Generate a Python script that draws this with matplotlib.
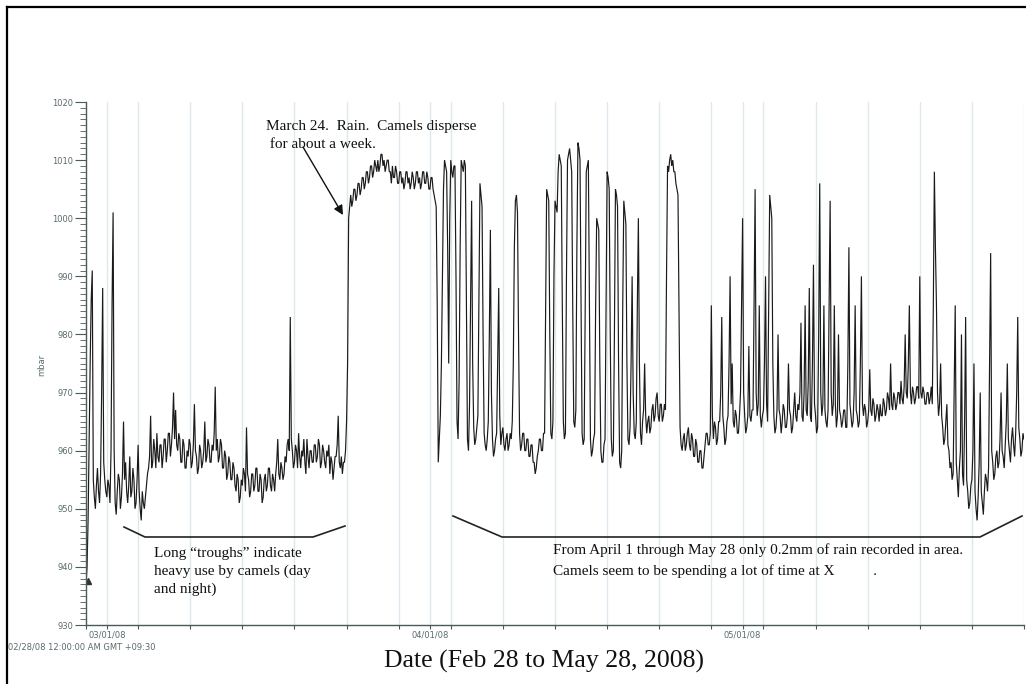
import numpy as np
import matplotlib
matplotlib.use("Agg")
import matplotlib.pyplot as plt
from matplotlib.lines import Line2D
from matplotlib.patches import FancyArrowPatch

# ---------------- data ----------------
# pressure (mbar), sampled every 0.1 day starting 02/28/08 00:00
step_days = 0.1
mbar = [
 937, 940, 948, 962, 975, 986, 991, 955, 952, 950, 954, 957, 953, 951, 956, 970, 988, 958, 955, 953,
 952, 955, 954, 951, 960, 985, 1001, 960, 951, 949, 953, 956, 955, 950, 952, 956, 965, 955, 958, 953,
 951, 954, 959, 952, 953, 957, 955, 950, 951, 955, 961, 953, 950, 948, 953, 951, 950, 952, 954, 956,
 957, 959, 966, 957, 958, 962, 960, 957, 963, 959, 958, 961, 961, 957, 959, 962, 962, 958, 960, 963,
 963, 959, 961, 964, 970, 962, 967, 961, 960, 963, 962, 958, 958, 962, 961, 957, 957, 960, 959, 962,
 961, 957, 958, 961, 968, 960, 959, 956, 957, 961, 960, 957, 958, 960, 965, 958, 959, 962, 961, 958,
 958, 961, 960, 963, 971, 960, 962, 958, 959, 962, 961, 957, 957, 960, 959, 955, 956, 959, 958, 955,
 955, 958, 957, 954, 953, 956, 955, 951, 952, 955, 954, 957, 956, 953, 964, 956, 955, 952, 953, 956,
 956, 953, 954, 957, 957, 953, 953, 956, 955, 951, 952, 955, 956, 953, 954, 957, 957, 954, 953, 956,
 955, 953, 956, 958, 962, 956, 955, 958, 957, 955, 956, 959, 958, 961, 962, 960, 983, 962, 960, 957,
 958, 961, 960, 957, 963, 959, 957, 960, 959, 962, 958, 956, 962, 959, 957, 960, 960, 958, 958, 961,
 961, 958, 959, 962, 961, 957, 958, 961, 960, 958, 957, 960, 959, 961, 956, 959, 958, 955, 957, 959,
 959, 961, 966, 958, 957, 959, 956, 958, 958, 960, 965, 975, 1000, 1002, 1004, 1002, 1003, 1005, 1005, 1003,
 1004, 1006, 1006, 1004, 1005, 1007, 1007, 1005, 1006, 1008, 1008, 1006, 1007, 1009, 1009, 1007, 1008, 1010, 1009, 1008,
 1010, 1008, 1009, 1011, 1011, 1009, 1010, 1008, 1009, 1010, 1010, 1008, 1008, 1006, 1009, 1007, 1007, 1009, 1008, 1006,
 1006, 1008, 1008, 1006, 1007, 1005, 1006, 1008, 1008, 1006, 1007, 1005, 1006, 1008, 1007, 1005, 1006, 1008, 1008, 1006,
 1007, 1005, 1006, 1008, 1008, 1006, 1006, 1008, 1007, 1005, 1005, 1007, 1007, 1005, 1004, 1003, 1002, 985, 958, 962,
 966, 975, 990, 1005, 1010, 1009, 1008, 995, 975, 1000, 1010, 1008, 1007, 1009, 1009, 990, 965, 962, 972, 995,
 1010, 1009, 1008, 1010, 1009, 985, 962, 960, 968, 985, 1003, 975, 964, 961, 962, 964, 966, 985, 1006, 1004,
 1002, 980, 963, 961, 960, 962, 965, 980, 998, 970, 962, 959, 960, 962, 963, 975, 988, 966, 961, 963,
 964, 961, 960, 962, 963, 960, 961, 963, 962, 965, 975, 995, 1003, 1004, 1001, 980, 963, 960, 961, 963,
 963, 960, 960, 962, 962, 959, 959, 961, 961, 958, 958, 956, 957, 959, 960, 962, 962, 960, 960, 963,
 963, 985, 1005, 1004, 1003, 980, 963, 962, 965, 990, 1003, 1002, 1001, 1008, 1011, 1010, 1009, 985, 965, 962,
 963, 990, 1010, 1011, 1012, 1010, 1008, 985, 965, 964, 967, 995, 1013, 1012, 1010, 985, 963, 961, 962, 985,
 1008, 1009, 1010, 985, 962, 959, 960, 962, 963, 985, 1000, 999, 998, 975, 960, 958, 958, 961, 962, 985,
 1008, 1007, 1005, 980, 962, 959, 960, 980, 1005, 1004, 1002, 975, 958, 957, 960, 985, 1003, 1001, 999, 975,
 962, 961, 964, 975, 990, 970, 963, 962, 965, 985, 1000, 975, 963, 961, 965, 967, 975, 966, 963, 965,
 966, 963, 964, 967, 968, 965, 966, 969, 970, 966, 965, 968, 968, 965, 966, 968, 967, 990, 1009, 1008,
 1010, 1011, 1009, 1010, 1008, 1008, 1006, 1005, 1004, 985, 964, 961, 960, 962, 963, 960, 961, 963, 964, 961,
 960, 963, 962, 959, 959, 962, 961, 958, 958, 960, 960, 957, 957, 959, 961, 963, 963, 961, 961, 963,
 985, 966, 962, 965, 964, 961, 962, 965, 965, 970, 983, 966, 964, 961, 962, 965, 966, 975, 990, 968,
 975, 965, 964, 967, 966, 963, 963, 966, 970, 985, 1000, 970, 966, 963, 964, 966, 978, 966, 965, 967,
 967, 985, 1005, 970, 966, 968, 985, 966, 964, 966, 967, 975, 990, 968, 965, 985, 1004, 1002, 1000, 975,
 966, 963, 964, 967, 980, 967, 966, 963, 965, 968, 967, 964, 964, 966, 975, 967, 966, 963, 964, 967,
 970, 966, 965, 968, 967, 970, 982, 966, 965, 970, 985, 967, 966, 972, 988, 966, 965, 975, 992, 968,
 966, 963, 964, 980, 1006, 970, 966, 968, 985, 967, 965, 964, 967, 985, 1003, 970, 966, 968, 985, 968,
 964, 966, 980, 967, 966, 964, 965, 967, 967, 964, 964, 975, 995, 968, 966, 964, 965, 970, 985, 967,
 966, 964, 965, 975, 990, 968, 966, 968, 967, 964, 965, 967, 974, 967, 966, 969, 968, 965, 966, 968,
 967, 965, 968, 966, 966, 969, 968, 966, 967, 970, 969, 967, 975, 968, 967, 970, 969, 967, 968, 970,
 970, 968, 972, 969, 968, 971, 980, 970, 969, 975, 985, 970, 968, 971, 970, 968, 969, 971, 971, 969,
 990, 970, 969, 971, 970, 968, 968, 970, 970, 968, 969, 971, 968, 985, 1008, 995, 985, 970, 966, 968,
 975, 966, 964, 961, 962, 965, 968, 961, 960, 957, 958, 955, 956, 970, 985, 958, 955, 952, 957, 960,
 980, 956, 954, 965, 983, 955, 953, 950, 951, 954, 955, 960, 975, 953, 950, 948, 952, 958, 970, 953,
 951, 949, 953, 956, 955, 953, 957, 975, 994, 960, 958, 955, 956, 959, 960, 957, 958, 962, 970, 960,
 959, 957, 961, 965, 975, 962, 960, 958, 962, 964, 961, 959, 963, 970, 983, 964, 962, 959, 960, 963,
 962,
]

yticks = [930, 940, 950, 960, 970, 980, 990, 1000, 1010, 1020]
month_days = [2, 33, 63]            # 03/01/08, 04/01/08, 05/01/08
month_labels = ["03/01/08", "04/01/08", "05/01/08"]
grid_days = list(range(0, 91, 5))

# ---------------- figure ----------------
W, H = 1026, 684
fig = plt.figure(figsize=(W / 100, H / 100), dpi=100)
fig.patch.set_facecolor("white")

def fx(px):
    return px / W

def fy(py):
    return 1 - py / H

# outer frame
fig.add_artist(Line2D([fx(7), fx(7)], [fy(7), fy(684)], color="black", lw=1.6))
fig.add_artist(Line2D([fx(7), fx(1026)], [fy(7), fy(7)], color="black", lw=1.6))

x0, x1, y0, y1 = 86, 1024, 102, 625
ax = fig.add_axes([fx(x0), fy(y1), fx(x1 - x0), (y1 - y0) / H])

days = np.arange(len(mbar)) * step_days
ax.plot(days, mbar, color="#1a1a1a", lw=0.85, solid_joinstyle="miter")
ax.plot([0.15], [937.5], marker="^", color="#333333", ms=4)

ax.set_xlim(0, 90)
ax.set_ylim(930, 1020)

axcol = "#4a5a5a"
lblcol = "#5a6a6e"
for s in ["top", "right"]:
    ax.spines[s].set_visible(False)
for s in ["left", "bottom"]:
    ax.spines[s].set_color(axcol)
    ax.spines[s].set_linewidth(1.0)

ax.set_yticks(yticks)
ax.set_yticks(np.arange(930, 1021, 1), minor=True)
ax.set_yticklabels([str(v) for v in yticks], fontsize=6, color=lblcol,
                   family="DejaVu Sans")
ax.tick_params(axis="y", which="major", length=8, width=0.8, color=axcol, pad=1)
ax.tick_params(axis="y", which="minor", length=4, width=0.6, color=axcol)

all_x = sorted(set(grid_days + month_days))
ax.set_xticks(all_x)
ax.set_xticklabels(["" for _ in all_x])
ax.tick_params(axis="x", which="major", length=3, width=0.8, color=axcol)
for d in all_x:
    if d > 0:
        ax.axvline(d, color="#dde8ec", lw=1.0, zorder=0)
for d, lab in zip(month_days, month_labels):
    ax.text(d, -0.011, lab, transform=ax.get_xaxis_transform(), ha="center", va="top",
            fontsize=6, color=lblcol, family="DejaVu Sans")

fig.text(fx(42), fy(365), "mbar", rotation=90, fontsize=6, color=lblcol,
         ha="center", va="center", family="DejaVu Sans")
fig.text(fx(8), fy(647), "02/28/08 12:00:00 AM GMT +09:30", fontsize=6, color=lblcol,
         ha="left", va="center", family="DejaVu Sans")

serif = "Liberation Serif"
fig.text(fx(544), fy(661), "Date (Feb 28 to May 28, 2008)", fontsize=18.5, color="#111111",
         ha="center", va="center", family=serif)

fig.text(fx(266), fy(120), "March 24.  Rain.  Camels disperse\n for about a week.",
         fontsize=11, ha="left", va="top", family=serif, color="#111111", linespacing=1.5)
fig.add_artist(FancyArrowPatch(
    (fx(303), fy(147)), (fx(343), fy(215)), transform=fig.transFigure,
    arrowstyle="-|>", mutation_scale=14, color="#111111", lw=1.0, shrinkA=0, shrinkB=0))

fig.text(fx(154), fy(547), "Long \u201ctroughs\u201d indicate\nheavy use by camels (day\nand night)",
         fontsize=11, ha="left", va="top", family=serif, color="#111111", linespacing=1.45)
fig.text(fx(553), fy(543),
         "From April 1 through May 28 only 0.2mm of rain recorded in area.\n"
         "Camels seem to be spending a lot of time at X          .",
         fontsize=11, ha="left", va="top", family=serif, color="#111111", linespacing=1.7)

br1 = [(124, 527), (145, 537), (313, 537), (345, 526)]
br2 = [(453, 516), (502, 537), (980, 537), (1022, 516)]
for br in (br1, br2):
    fig.add_artist(Line2D([fx(p[0]) for p in br], [fy(p[1]) for p in br],
                          color="#222222", lw=1.2))

fig.savefig("out.png", dpi=100, facecolor="white")
